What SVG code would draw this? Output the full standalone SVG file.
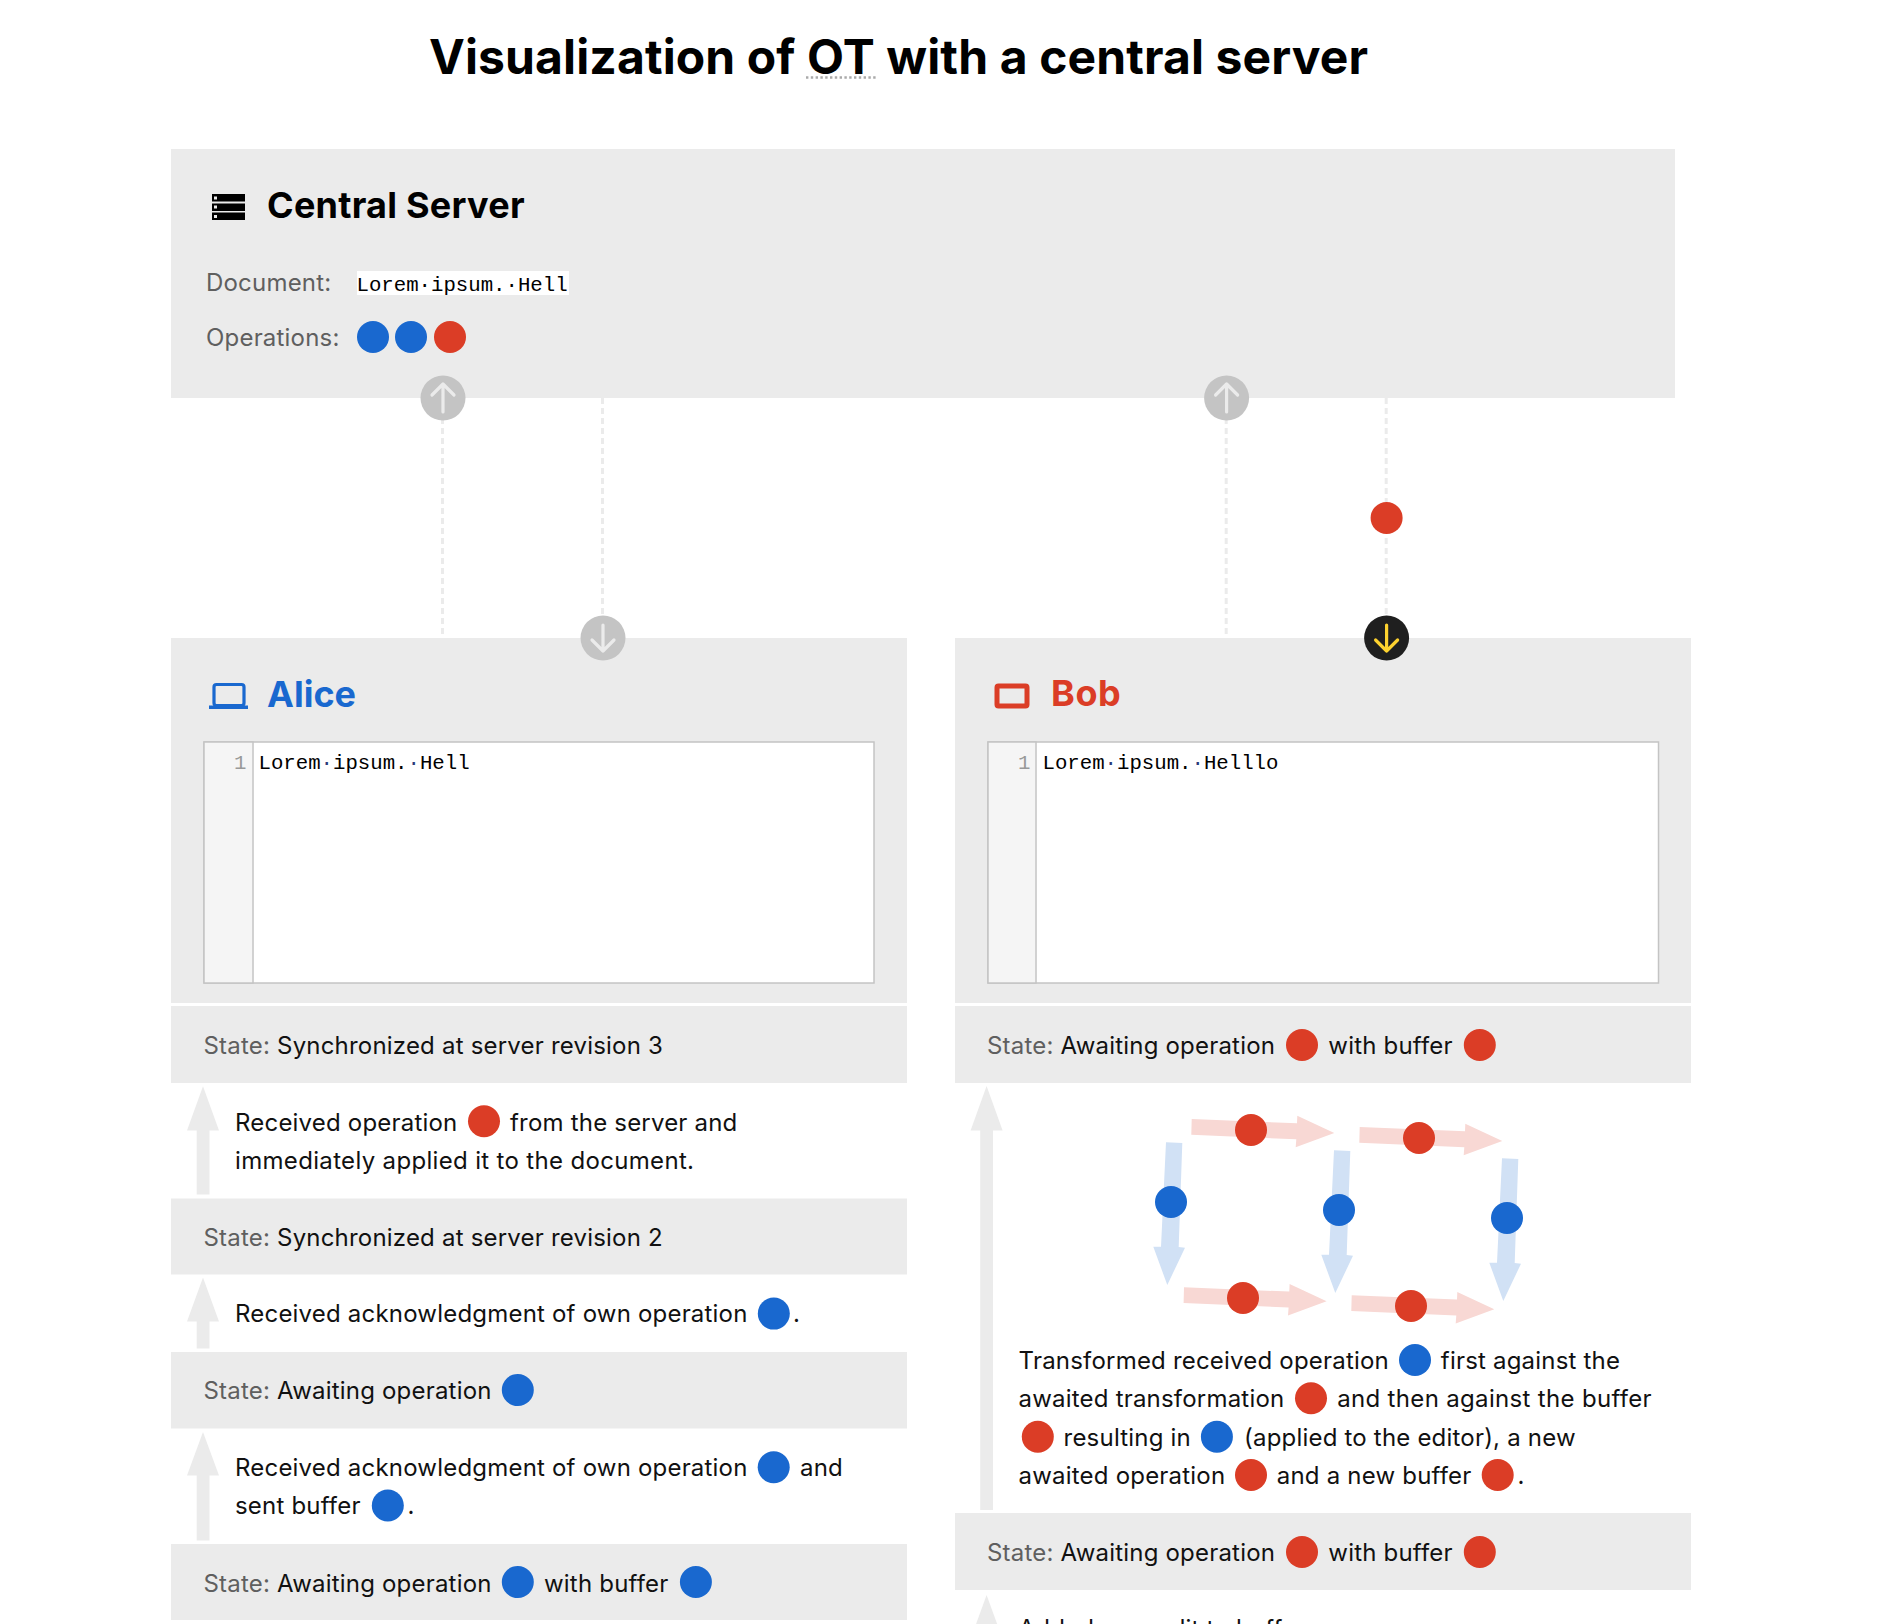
<svg xmlns="http://www.w3.org/2000/svg" width="1878" height="1624" viewBox="0 0 1878 1624">
<style>
text{font-family:Inter,"Noto Sans",sans-serif;font-size:24px;letter-spacing:.2px;fill:#111}
.title{font-size:48px;font-weight:700;letter-spacing:.12px;fill:#000}
.h{font-size:36px;font-weight:700;letter-spacing:.25px;fill:#000}
.l{fill:#5f5f5f}
.m{font-family:"Liberation Mono",monospace;font-size:20.7px;letter-spacing:0;fill:#000}
.w{letter-spacing:.33px}
.panel{fill:#ebebeb}
.b{fill:#1968cf}
.r{fill:#db3d26}
.dash{stroke:#ebebeb;stroke-width:3;stroke-dasharray:6 4;fill:none}
.up{fill:#ebebeb}
.ed{fill:#fff;stroke:#c4c4c4;stroke-width:1.5}
.gut{fill:#f5f5f5;stroke:#c4c4c4;stroke-width:1.5}
.ic{fill:none;stroke:#ebebeb;stroke-width:3.2;stroke-linecap:round;stroke-linejoin:round}
</style>
<defs>
<circle id="o" r="16"/>
<polygon id="ra" fill="#f8d8d4" points="1191.7,1119 1297,1123.3 1297.3,1115.7 1334.3,1133 1295.7,1147.3 1296.3,1139.3 1191.3,1134.7"/>
<polygon id="ba" fill="#d1e1f5" points="1166,1142.3 1182.3,1143 1178.7,1247 1185,1247.7 1167.3,1285 1153.3,1246.7 1161,1246.7"/>
</defs>
<g id="title">
<text class="title" x="429" y="74">Visualization of OT with a central server</text>
<line x1="806" y1="77.5" x2="876" y2="77.5" stroke="#aaa" stroke-width="2.4" stroke-dasharray="2.4 2.4"/>
</g>
<g id="server">
<rect class="panel" x="171" y="149" width="1504" height="249"/>
<g id="server-icon">
<rect x="212" y="194" width="33" height="7.5" fill="#000"/><rect x="212" y="203.5" width="33" height="7.5" fill="#000"/><rect x="212" y="212.5" width="33" height="7.5" fill="#000"/>
<rect x="214" y="196.5" width="3" height="3" fill="#ebebeb"/><rect x="214" y="205.5" width="3" height="3" fill="#ebebeb"/><rect x="214" y="215" width="3" height="3" fill="#ebebeb"/>
</g>
<text class="h" x="267" y="218">Central Server</text>
<text class="l" x="206" y="291">Document:</text>
<rect x="357" y="271" width="212" height="24" fill="#fff"/>
<text class="m" x="356.5" y="291">Lorem·ipsum.·Hell</text>
<text class="l" x="206" y="346">Operations:</text>
<use href="#o" class="b" x="373" y="337"/><use href="#o" class="b" x="411" y="337"/><use href="#o" class="r" x="450" y="337"/>
</g>
<g id="connectors">
<line class="dash" x1="442.5" y1="398" x2="442.5" y2="638"/>
<line class="dash" x1="602.5" y1="398" x2="602.5" y2="638"/>
<line class="dash" x1="1226.2" y1="398" x2="1226.2" y2="638"/>
<line class="dash" x1="1386.2" y1="398" x2="1386.2" y2="638"/>
</g>
<g id="moving-op"><use href="#o" class="r" x="1386.6" y="518"/></g>
<g id="alice">
<rect class="panel" x="171" y="638" width="736" height="365"/>
<g id="alice-icon" fill="none" stroke="#1968cf">
<rect x="214" y="684.5" width="30" height="21" rx="2.5" stroke-width="3.2"/>
<rect x="209" y="705.5" width="39" height="3.5" fill="#1968cf" stroke="none"/>
</g>
<text class="h" x="267" y="707" style="fill:#1968cf;letter-spacing:0">Alice</text>
<rect class="ed" x="204" y="742" width="670" height="241"/>
<rect class="gut" x="204" y="742" width="49" height="241"/>
<text class="m" x="234" y="768.5" style="fill:#999">1</text>
<text class="m" x="258.5" y="768.5">Lorem<tspan style="fill:#2b3a7a">·</tspan>ipsum.<tspan style="fill:#2b3a7a">·</tspan>Hell</text>
<rect class="panel" x="171" y="1006" width="736" height="77"/>
<text x="203.5" y="1054"><tspan class="l">State:</tspan> Synchronized at server revision 3</text>
<polygon class="up" points="203,1086.3 219,1130.6 209.5,1130.6 209.5,1194.6 196.7,1194.6 196.7,1130.6 187,1130.6"/>
<text x="235" y="1130.6">Received operation</text><use href="#o" class="r" x="484" y="1121.2"/><text x="510" y="1130.6">from the server and</text>
<text class="w" x="235" y="1168.6">immediately applied it to the document.</text>
<rect class="panel" x="171" y="1198.5" width="736" height="76"/>
<text x="203.5" y="1245.5"><tspan class="l">State:</tspan> Synchronized at server revision 2</text>
<polygon class="up" points="203,1277.4 219,1321.5 209.5,1321.5 209.5,1348.6 196.7,1348.6 196.7,1321.5 187,1321.5"/>
<text x="235" y="1322">Received acknowledgment of own operation</text><use href="#o" class="b" x="773.8" y="1313.6"/><text x="793" y="1322">.</text>
<rect class="panel" x="171" y="1352" width="736" height="76.5"/>
<text x="203.5" y="1399.4"><tspan class="l">State:</tspan> Awaiting operation</text><use href="#o" class="b" x="517.8" y="1390"/>
<polygon class="up" points="203,1431.9 219,1475.4 209.5,1475.4 209.5,1540.6 196.7,1540.6 196.7,1475.4 187,1475.4"/>
<text x="235" y="1476.4">Received acknowledgment of own operation</text><use href="#o" class="b" x="773.7" y="1467.2"/><text x="800" y="1476.4">and</text>
<text x="235" y="1514.4">sent buffer</text><use href="#o" class="b" x="387.8" y="1505.5"/><text x="407.5" y="1514.4">.</text>
<rect class="panel" x="171" y="1544" width="736" height="76"/>
<text x="203.5" y="1591.6"><tspan class="l">State:</tspan> Awaiting operation</text><use href="#o" class="b" x="517.8" y="1582"/><text x="544" y="1591.6">with buffer</text><use href="#o" class="b" x="695.9" y="1582"/>
</g>
<g id="bob">
<rect class="panel" x="955" y="638" width="736" height="365"/>
<rect id="bob-icon" x="997" y="686" width="30" height="20" rx="1.5" fill="none" stroke="#db3d26" stroke-width="5"/>
<text class="h" x="1051" y="706" style="fill:#db3d26;letter-spacing:.6px">Bob</text>
<rect class="ed" x="988" y="742" width="670.5" height="241"/>
<rect class="gut" x="988" y="742" width="48" height="241"/>
<text class="m" x="1018" y="768.5" style="fill:#999">1</text>
<text class="m" x="1042.5" y="768.5">Lorem<tspan style="fill:#2b3a7a">·</tspan>ipsum.<tspan style="fill:#2b3a7a">·</tspan>Helllo</text>
<rect class="panel" x="955" y="1006" width="736" height="77"/>
<text x="987" y="1054"><tspan class="l">State:</tspan> Awaiting operation</text><use href="#o" class="r" x="1302" y="1045"/><text x="1328.3" y="1054">with buffer</text><use href="#o" class="r" x="1479.8" y="1045"/>
<polygon class="up" points="986.6,1086 1002.6,1130.5 993,1130.5 993,1510 980.2,1510 980.2,1130.5 970.6,1130.5"/>
<g id="transform">
<use href="#ra"/><use href="#ra" x="168" y="8"/><use href="#ra" x="-7.7" y="168.3"/><use href="#ra" x="160" y="176.3"/>
<use href="#ba"/><use href="#ba" x="168" y="8"/><use href="#ba" x="336" y="16"/>
<use href="#o" class="r" x="1251" y="1130"/><use href="#o" class="r" x="1419" y="1138"/><use href="#o" class="r" x="1243" y="1298"/><use href="#o" class="r" x="1411" y="1306"/>
<use href="#o" class="b" x="1171" y="1202"/><use href="#o" class="b" x="1339" y="1210"/><use href="#o" class="b" x="1507" y="1218"/>
</g>
<text x="1018.6" y="1368.5">Transformed received operation</text><use href="#o" class="b" x="1415" y="1360"/><text x="1440.8" y="1368.5">first against the</text>
<text x="1018.6" y="1407">awaited transformation</text><use href="#o" class="r" x="1311" y="1398.3"/><text class="w" x="1337.2" y="1407">and then against the buffer</text>
<use href="#o" class="r" x="1037.8" y="1436.7"/><text x="1063.6" y="1445.5">resulting in</text><use href="#o" class="b" x="1216.9" y="1436.7"/><text x="1244" y="1445.5">(applied to the editor), a new</text>
<text x="1018.6" y="1483.5">awaited operation</text><use href="#o" class="r" x="1251" y="1475"/><text x="1276.8" y="1483.5">and a new buffer</text><use href="#o" class="r" x="1497.7" y="1475"/><text x="1517.5" y="1483.5">.</text>
<rect class="panel" x="955" y="1513" width="736" height="77"/>
<text x="987" y="1560.5"><tspan class="l">State:</tspan> Awaiting operation</text><use href="#o" class="r" x="1302" y="1552"/><text x="1328.3" y="1560.5">with buffer</text><use href="#o" class="r" x="1479.8" y="1552"/>
<polygon class="up" points="986.6,1595 1002.6,1639 970.6,1639"/>
<text x="1018.6" y="1637">Added own edit to buffer</text>
</g>
<g id="buttons">
<g id="btn-a-up"><circle cx="443" cy="398" r="22.5" fill="#c4c4c4"/><path class="ic" d="M443 412V385M432 395L443 384L454 395"/></g>
<g id="btn-a-down"><circle cx="603" cy="638" r="22.5" fill="#c4c4c4"/><path class="ic" d="M603 625V651M592 640L603 651L614 640"/></g>
<g id="btn-b-up"><circle cx="1226.6" cy="398" r="22.5" fill="#c4c4c4"/><path class="ic" d="M1226.6 412V385M1215.6 395L1226.6 384L1237.6 395"/></g>
<g id="btn-b-down"><circle cx="1386.6" cy="638" r="22.5" fill="#1f1f1f"/><path class="ic" style="stroke:#fdd22f" d="M1386.6 625V651M1375.6 640L1386.6 651L1397.6 640"/></g>
</g>
</svg>
